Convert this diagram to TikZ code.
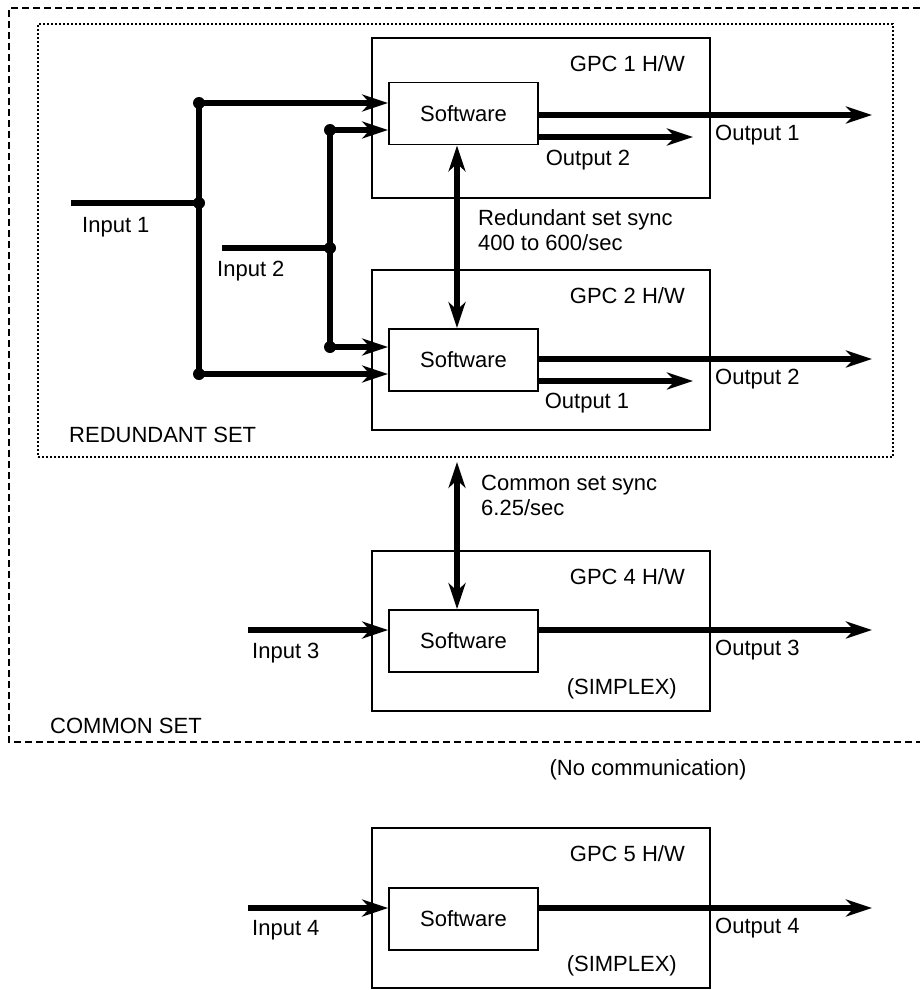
\documentclass[tikz,border=0pt]{standalone}
\usepackage{fontspec}
\setmainfont{Liberation Sans}
\usetikzlibrary{arrows.meta,positioning}

\tikzset{
  gpc/.style={draw,line width=1.8pt,minimum width=338pt,minimum height=160pt,inner sep=0pt},
  soft/.style={draw,line width=1.8pt,minimum width=149pt,minimum height=62pt,inner sep=0pt},
  bus/.style={line width=5.5pt},
  flow/.style={line width=5.5pt,-{Stealth[length=26pt,width=17pt,inset=8pt]}},
  sync/.style={line width=5.5pt,{Stealth[length=26pt,width=17pt,inset=8pt]}-{Stealth[length=26pt,width=17pt,inset=8pt]}},
  joint/.style={circle,fill,inner sep=0pt,minimum size=12pt},
  lbl/.style={inner sep=0pt}
}

\begin{document}
\begin{tikzpicture}[x=1pt,y=-1pt,font=\fontsize{22}{25}\selectfont]
\useasboundingbox (0,0) rectangle (920,990);

% common set and redundant set
\draw[line width=1.8pt,dash pattern=on 7pt off 4pt] (920,8) -| (9,742) -- (920,742);
\node[draw,line width=1.8pt,dash pattern=on 2pt off 2pt,minimum width=855pt,minimum height=433pt,inner sep=0pt] (redset) at (465.5,240.5) {};

\node[gpc] (gpc1) at (541,118) {};
\node[gpc] (gpc2) at (541,350) {};
\node[gpc] (gpc4) at (541,631) {};
\node[gpc] (gpc5) at (541,908) {};

\node[soft] (sw1) at (463.5,113.5) {Software};
\node[soft] (sw2) at (463.5,360) {Software};
\node[soft] (sw4) at (463.5,641) {Software};
\node[soft] (sw5) at (463.5,919) {Software};

\begin{scope}[every node/.style={lbl,anchor=east}]
    \node (hw1) at (685,64) {GPC 1 H/W};
    \node (hw2) at (685,296) {GPC 2 H/W};
    \node (hw4) at (685,577) {GPC 4 H/W};
    \node (hw5) at (685,854) {GPC 5 H/W};
    \node (simplex4) at (677,689) {(SIMPLEX)};
    \node (simplex5) at (677,966) {(SIMPLEX)};
\end{scope}

% inputs 1 and 2
\coordinate (in1) at (71,203);
\coordinate (in2) at (222,248);
\node[joint] (j1) at (199,203) {};
\node[joint] (j2) at (199,103) {};
\node[joint] (j3) at (199,374) {};
\node[joint] (k1) at (330,248) {};
\node[joint] (k2) at (330,130) {};
\node[joint] (k3) at (330,347) {};

\draw[bus] (in1) -- (j1.center);
\draw[bus] (j2.center) -- (j3.center);
\draw[bus] (in2) -- (k1.center);
\draw[bus] (k2.center) -- (k3.center);
\draw[flow] (j2.center) -- (j2.center -| sw1.west);
\draw[flow] (k2.center) -- (k2.center -| sw1.west);
\draw[flow] (k3.center) -- (k3.center -| sw2.west);
\draw[flow] (j3.center) -- (j3.center -| sw2.west);

% inputs 3 and 4
\coordinate (in3) at (248,630);
\coordinate (in4) at (248,908);
\draw[flow] (in3) -- (in3 -| sw4.west);
\draw[flow] (in4) -- (in4 -| sw5.west);

% outputs
\coordinate (out1a) at (872,115);
\coordinate (out1b) at (693,137);
\coordinate (out2a) at (872,359);
\coordinate (out2b) at (693,381);
\coordinate (out3) at (872,630);
\coordinate (out4) at (872,908);
\draw[flow] (out1a -| sw1.east) -- (out1a);
\draw[flow] (out1b -| sw1.east) -- (out1b);
\draw[flow] (out2a -| sw2.east) -- (out2a);
\draw[flow] (out2b -| sw2.east) -- (out2b);
\draw[flow] (out3 -| sw4.east) -- (out3);
\draw[flow] (out4 -| sw5.east) -- (out4);

% sync
\coordinate (syncx) at (457,0);
\draw[sync] (sw1.south -| syncx) -- (sw2.north -| syncx);
\draw[sync,shorten <=4pt] (redset.south -| syncx) -- (sw4.north -| syncx);

\begin{scope}[every node/.style={lbl,anchor=west,align=left}]
    \node (in1lbl) at (82,227) {Input 1};
    \node (in2lbl) at (217,271) {Input 2};
    \node (in3lbl) at (252,653) {Input 3};
    \node (in4lbl) at (252,930) {Input 4};
    \node (out1albl) at (715,135) {Output 1};
    \node (out2albl) at (715,379) {Output 2};
    \node (out3lbl) at (715,650) {Output 3};
    \node (out4lbl) at (715,928) {Output 4};
    \node (redsync) at (478,230.5) {Redundant set sync\\400 to 600/sec};
    \node (comsync) at (481,495.5) {Common set sync\\6.25/sec};
    \node (redlbl) at (69,435) {REDUNDANT SET};
    \node (comlbl) at (50,726) {COMMON SET};
\end{scope}
\node[lbl] (out1blbl) at (588,160) {Output 2};
\node[lbl] (out2blbl) at (587,403) {Output 1};
\node[lbl] (nocomm) at (648,770) {(No communication)};
\end{tikzpicture}
\end{document}
